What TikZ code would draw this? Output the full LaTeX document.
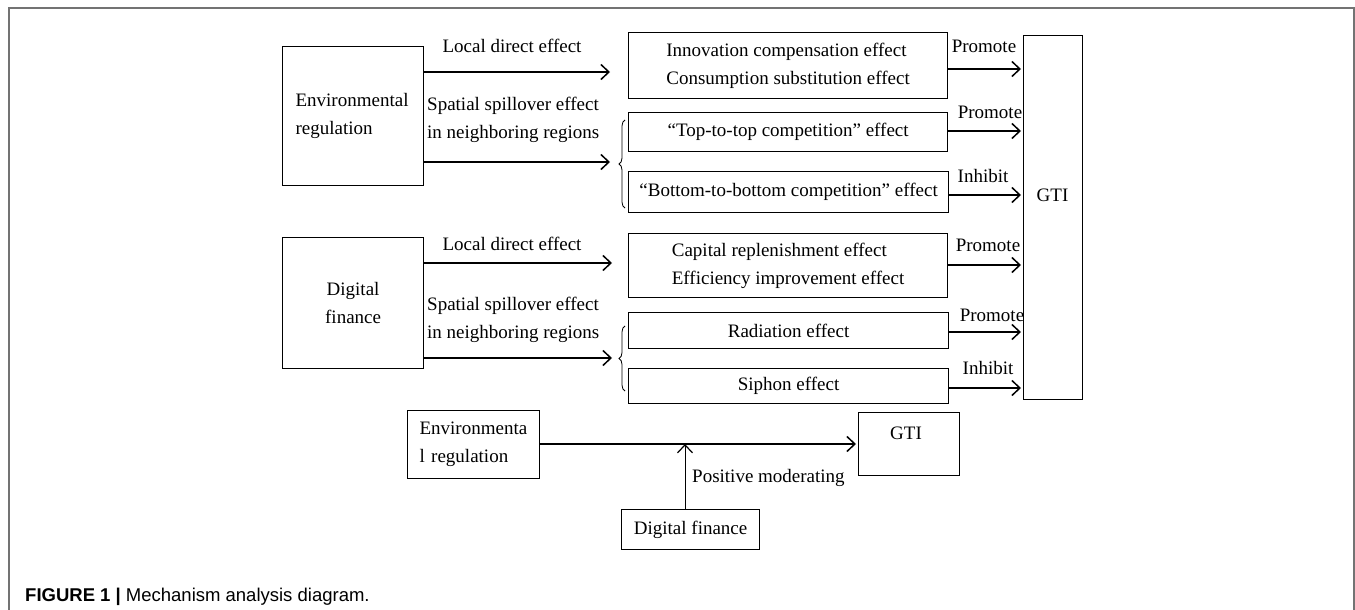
\documentclass[tikz,border=0pt]{standalone}
\usepackage{fontspec}
\setmainfont{Liberation Serif}
\newfontfamily\capfont{Liberation Sans}
\usetikzlibrary{arrows.meta,decorations.pathreplacing}
\begin{document}
\begin{tikzpicture}[x=1pt,y=-1pt,
  box/.style={draw, line width=1.2pt, inner sep=0pt, anchor=north west, font=\fontsize{19}{28}\selectfont},
  txt/.style={inner sep=0pt, font=\fontsize{19}{28}\selectfont},
  arr/.style={line width=1.5pt, -{Straight Barb[length=8pt,width=15pt,line width=1.5pt]}},
  arrthin/.style={line width=1pt, -{Straight Barb[length=8pt,width=15pt,line width=1.2pt]}},
  brc/.style={decorate, decoration={brace, amplitude=6pt}, line width=0.8pt},
  frm/.style={draw=black!55, line width=1.5pt}]
\useasboundingbox (0,0) rectangle (1355,610);
\draw[frm] (9,610) -- (9,8) -- (1354,8) -- (1354,610);

% ---------- boxes ----------
\node[box, minimum width=141, minimum height=139, text width=115, align=left] (env) at (282,46) {Environmental\\regulation};
\node[box, minimum width=141, minimum height=131, text width=115, align=center] (dig) at (282,237) {Digital\\finance};
\node[box, minimum width=319, minimum height=66, align=left] (inno) at (628,32) {Innovation compensation effect\\Consumption substitution effect};
\node[box, minimum width=319, minimum height=39] (top) at (628,112) {``Top-to-top competition'' effect};
\node[box, minimum width=320, minimum height=41] (bot) at (628,171) {``Bottom-to-bottom competition'' effect};
\node[box, minimum width=319, minimum height=64, align=left] (cap) at (628,233) {Capital replenishment effect\\Efficiency improvement effect};
\node[box, minimum width=320, minimum height=36] (rad) at (628,312) {Radiation effect};
\node[box, minimum width=320, minimum height=35] (sip) at (628,368) {Siphon effect};
\node[box, minimum width=59, minimum height=364] (gti) at (1023,35) {};
\node[txt] (gtil) at (1052.5,195) {GTI};

% ---------- left arrows ----------
\coordinate (e1) at (610,72);
\coordinate (e2) at (610,162);
\coordinate (d1) at (612,263);
\coordinate (d2) at (612,358);
\draw[arr] (env.east |- e1) -- (e1);
\draw[arr] (env.east |- e2) -- (e2);
\draw[arr] (dig.east |- d1) -- (d1);
\draw[arr] (dig.east |- d2) -- (d2);
\node[txt] (l1) at (512,46) {Local direct effect};
\node[txt] (l2) at (512,244) {Local direct effect};
\node[txt, align=left, anchor=west] (s1) at (427,120) {Spatial spillover effect\\in neighboring regions};
\node[txt, align=left, anchor=west] (s2) at (427,320) {Spatial spillover effect\\in neighboring regions};

% ---------- braces ----------
\coordinate (b1a) at (625,208);
\coordinate (b1b) at (625,120);
\coordinate (b2a) at (625,391);
\coordinate (b2b) at (625,326);
\draw[brc] (b1a) -- (b1b);
\draw[brc] (b2a) -- (b2b);

% ---------- right arrows ----------
\draw[arr, shorten >=2pt] (inno.east |- 0,69) -- (gti.west |- 0,69);
\draw[arr, shorten >=2pt] (top.east |- 0,131) -- (gti.west |- 0,131);
\draw[arr, shorten >=2pt] (bot.east |- 0,195) -- (gti.west |- 0,195);
\draw[arr, shorten >=2pt] (cap.east |- 0,265) -- (gti.west |- 0,265);
\draw[arr, shorten >=2pt] (rad.east |- 0,332) -- (gti.west |- 0,332);
\draw[arr, shorten >=2pt] (sip.east |- 0,388) -- (gti.west |- 0,388);
\node[txt] (p1) at (984,46) {Promote};
\node[txt] (p2) at (990,112) {Promote};
\node[txt] (p3) at (983,176) {Inhibit};
\node[txt] (p4) at (988,245) {Promote};
\node[txt] (p5) at (992,315) {Promote};
\node[txt] (p6) at (988,368) {Inhibit};

% ---------- moderating model ----------
\node[box, minimum width=132, minimum height=68, text width=108, align=left] (envs) at (407,410) {Environmenta\\l regulation};
\node[box, minimum width=101, minimum height=63] (gtis) at (858,412) {};
\node[txt] (gtisl) at (906,433) {GTI};
\node[box, minimum width=138, minimum height=40] (dfs) at (621,509) {Digital finance};
\coordinate (m) at (685,444);
\draw[arr, shorten >=2pt] (envs.east |- m) -- (gtis.west |- m);
\draw[arrthin] (dfs.north -| m) -- (m);
\node[txt, anchor=west] (pm) at (692,478) {Positive moderating};

% ---------- caption ----------
\node[anchor=base west, inner sep=0pt] (cap1) at (25,601) {\capfont\fontsize{18.5}{22}\selectfont\textbf{FIGURE 1} \textbf{|} Mechanism analysis diagram.};
\end{tikzpicture}
\end{document}
